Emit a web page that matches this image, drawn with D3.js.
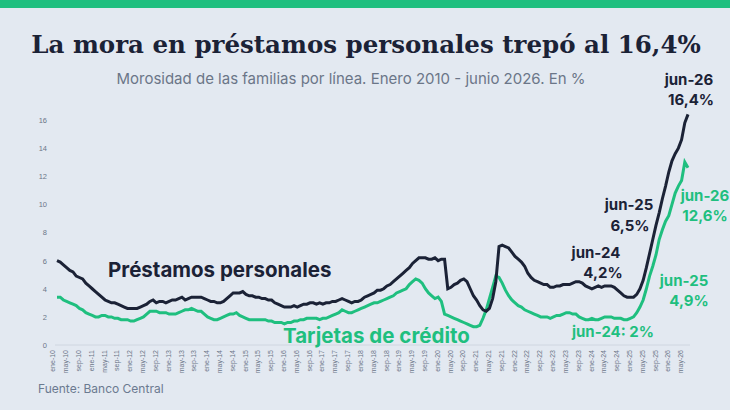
<!DOCTYPE html>
<html><head><meta charset="utf-8">
<script src="https://cdn.jsdelivr.net/npm/d3@7"></script>
<style>body{margin:0;background:#e3e9f1;font-family:Inter,"Noto Sans",sans-serif}</style>
</head><body><svg id="chart" width="730" height="410"></svg>
<script>
// datos mensuales ene-10 .. jun-26 (estimados del gráfico)
const prestamos = [
 6.0,5.9,5.7,5.5,5.3,5.2,4.9,4.8,4.7,4.4,4.2,4.0,
 3.8,3.6,3.4,3.2,3.1,3.0,3.0,2.9,2.8,2.7,2.6,2.6,
 2.6,2.6,2.7,2.8,2.9,3.1,3.2,3.0,3.1,3.1,3.0,3.1,
 3.2,3.2,3.3,3.4,3.2,3.3,3.4,3.4,3.4,3.4,3.3,3.2,
 3.1,3.1,3.0,3.0,3.1,3.3,3.5,3.7,3.7,3.7,3.8,3.6,
 3.5,3.5,3.4,3.4,3.3,3.3,3.2,3.2,3.0,2.9,2.8,2.7,
 2.7,2.7,2.8,2.7,2.8,2.9,2.9,3.0,3.0,2.9,3.0,2.9,
 3.0,3.0,3.1,3.1,3.2,3.3,3.2,3.1,3.0,3.1,3.1,3.2,
 3.4,3.5,3.6,3.7,3.9,3.9,4.0,4.2,4.3,4.5,4.7,4.9,
 5.1,5.3,5.5,5.8,6.0,6.2,6.2,6.2,6.1,6.1,6.2,6.0,
 6.1,6.1,4.0,4.1,4.3,4.4,4.6,4.7,4.5,4.0,3.5,3.2,
 2.8,2.5,2.4,2.6,3.3,4.5,7.0,7.1,7.0,6.9,6.6,6.3,
 6.1,5.9,5.6,5.1,4.8,4.6,4.5,4.4,4.3,4.3,4.1,4.1,
 4.2,4.2,4.3,4.3,4.3,4.4,4.5,4.5,4.4,4.2,4.1,4.0,
 4.1,4.2,4.1,4.2,4.2,4.2,4.1,3.9,3.7,3.5,3.4,3.4,
 3.4,3.6,4.0,4.6,5.5,6.5,7.5,8.5,9.4,10.4,11.3,12.3,
 13.1,13.6,14.0,14.6,15.8,16.4];
const tarjetas = [
 3.4,3.4,3.2,3.1,3.0,2.9,2.8,2.6,2.5,2.3,2.2,2.1,
 2.0,2.0,2.1,2.1,2.0,2.0,1.9,1.9,1.8,1.8,1.8,1.7,
 1.7,1.8,1.9,2.0,2.2,2.4,2.4,2.4,2.3,2.3,2.3,2.2,
 2.2,2.2,2.3,2.4,2.5,2.5,2.6,2.5,2.4,2.4,2.2,2.0,
 1.9,1.8,1.8,1.9,2.0,2.1,2.2,2.2,2.3,2.1,2.0,1.9,
 1.8,1.8,1.8,1.8,1.8,1.8,1.7,1.7,1.6,1.6,1.6,1.5,
 1.6,1.6,1.7,1.7,1.8,1.8,1.9,1.9,1.9,1.9,1.8,1.9,
 1.9,2.0,2.1,2.2,2.3,2.5,2.4,2.3,2.3,2.4,2.5,2.6,
 2.7,2.8,2.9,3.0,3.0,3.1,3.2,3.3,3.4,3.5,3.7,3.8,
 3.9,4.0,4.3,4.5,4.7,4.6,4.4,4.0,3.7,3.5,3.3,3.4,
 3.1,2.2,2.1,2.0,1.9,1.8,1.7,1.6,1.5,1.4,1.3,1.3,
 1.4,1.9,2.5,3.3,4.1,4.9,4.8,4.4,3.9,3.5,3.2,3.0,
 2.8,2.7,2.5,2.4,2.3,2.2,2.1,2.0,2.0,2.0,1.9,2.0,
 2.1,2.1,2.2,2.3,2.3,2.2,2.2,2.0,1.9,1.8,1.8,1.9,
 1.8,1.8,1.9,2.0,2.0,2.0,1.9,1.9,1.9,1.8,1.8,1.9,
 2.0,2.3,2.7,3.2,4.0,4.9,5.6,6.4,7.5,8.2,8.8,9.2,
 10.0,10.8,11.3,11.7,13.0,12.6];
const meses = ["ene","feb","mar","abr","may","jun","jul","ago","sep","oct","nov","dic"];
const fechas = prestamos.map((d,i) => meses[i%12] + "-" + (10 + Math.floor(i/12)));
const yTicks = [0,2,4,6,8,10,12,14,16];

const svg = d3.select("#chart");
const dark = "#1b2236", green = "#1fbf7f";
svg.append("rect").attr("width",730).attr("height",8).attr("fill",green);
svg.append("text").attr("x",366).attr("y",53).attr("text-anchor","middle")
  .attr("font-family","'DejaVu Serif',serif").attr("font-weight","bold").attr("font-size",24.5)
  .attr("fill",dark).text("La mora en préstamos personales trepó al 16,4%");
svg.append("text").attr("x",351).attr("y",84).attr("text-anchor","middle")
  .attr("font-size",15).attr("fill","#6b7688").text("Morosidad de las familias por línea. Enero 2010 - junio 2026. En %");

const x = d3.scaleLinear().domain([0,fechas.length-1]).range([57,688]);
const y = d3.scaleLinear().domain([0,16]).range([345,120]);

svg.append("line").attr("x1",55).attr("x2",690).attr("y1",y(0)).attr("y2",y(0)).attr("stroke","#cfd6e0");
svg.append("g").attr("transform","translate(50,0)")
  .call(d3.axisLeft(y).tickValues(yTicks).tickSize(0))
  .call(g => g.select(".domain").remove())
  .selectAll("text").attr("fill","#6b7688").attr("font-size",7.5);
svg.append("g").attr("transform",`translate(0,${y(0)+3})`)
  .call(d3.axisBottom(x).tickValues(d3.range(0,fechas.length,4)).tickFormat(i => fechas[i]).tickSize(0))
  .call(g => g.select(".domain").remove())
  .selectAll("text").attr("fill","#6b7688").attr("font-size",7)
  .attr("transform","rotate(-90)").attr("text-anchor","end").attr("dx","-2").attr("dy","-0.3em").attr("y",0);

const line = d3.line().x((d,i) => x(i)).y(d => y(d));
svg.append("path").datum(tarjetas).attr("d",line).attr("fill","none").attr("stroke",green).attr("stroke-width",3);
svg.append("path").datum(prestamos).attr("d",line).attr("fill","none").attr("stroke",dark).attr("stroke-width",3);

const lab = (t,xx,yy,c,fs,anchor="middle") => svg.append("text").attr("x",xx).attr("y",yy)
  .attr("text-anchor",anchor).attr("font-size",fs).attr("font-weight","bold").attr("fill",c).text(t);
lab("Préstamos personales",108,277,dark,20.5,"start");
lab("Tarjetas de crédito",283,343,green,20.5,"start");
lab("jun-26",689,85,dark,15); lab("16,4%",691,105,dark,15);
lab("jun-25",629,210,dark,15); lab("6,5%",630,231,dark,15);
lab("jun-24",596,258,dark,15); lab("4,2%",603,278,dark,15);
lab("jun-26",705,201,green,15); lab("12,6%",705,221,green,15);
lab("jun-25",684,286,green,15); lab("4,9%",689,306,green,15);
lab("jun-24: 2%",613,337,green,15);
svg.append("text").attr("x",38).attr("y",393).attr("font-size",12).attr("fill","#6b7a90").text("Fuente: Banco Central");
</script></body></html>
